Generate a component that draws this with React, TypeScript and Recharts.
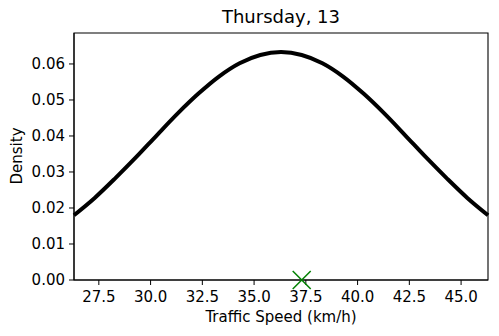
import { ComposedChart, Line, Scatter, XAxis, YAxis, ReferenceArea } from 'recharts';

// x positions along the speed axis (km/h)
const speeds = [26.3, 27.3, 28.3, 29.3, 30.3, 31.3, 32.3, 33.3, 34.3, 35.3, 36.3, 37.3, 38.3, 39.3, 40.3, 41.3, 42.3, 43.3, 44.3, 45.3, 46.3];
// density
const densities = [0.0180, 0.0228, 0.0283, 0.0341, 0.0402, 0.0462, 0.0517, 0.0565, 0.0602, 0.0625, 0.0633, 0.0625, 0.0602, 0.0565, 0.0517, 0.0462, 0.0402, 0.0341, 0.0283, 0.0228, 0.0180];
const markerSpeed = [37.3];
const markerDensity = [0];

const xTicks = [27.5, 30.0, 32.5, 35.0, 37.5, 40.0, 42.5, 45.0];
const yTicks = [0, 0.01, 0.02, 0.03, 0.04, 0.05, 0.06];
const xDomain = [26.3, 46.3];
const yDomain = [0, 0.0686];

const curve = speeds.map((s, i) => ({ speed: s, density: densities[i] }));
const marker = markerSpeed.map((s, i) => ({ speed: s, density: markerDensity[i] }));

const font = 'DejaVu Sans, sans-serif';

const Cross = (props: any) => {
    const { cx, cy } = props;
    const r = 9;
    return (
        <g>
            <line x1={cx - r} y1={cy - r} x2={cx + r} y2={cy + r} stroke="#008000" strokeWidth={1.5} />
            <line x1={cx - r} y1={cy + r} x2={cx + r} y2={cy - r} stroke="#008000" strokeWidth={1.5} />
        </g>
    );
};

export default function App() {
    return (
        <div style={{ position: 'absolute', left: 0, top: 0, width: 499, height: 336, background: '#fff', fontFamily: font }}>
            <ComposedChart width={499} height={336} margin={{ top: 33, right: 11, left: 0, bottom: 0 }}>
                <XAxis
                    dataKey="speed"
                    type="number"
                    domain={xDomain}
                    ticks={xTicks}
                    height={56}
                    tickSize={5}
                    tickMargin={6}
                    stroke="#000"
                    tick={{ fill: '#000', fontSize: 15, fontFamily: font }}
                    tickFormatter={(v: number) => v.toFixed(1)}
                />
                <YAxis
                    type="number"
                    domain={yDomain}
                    ticks={yTicks}
                    width={74}
                    tickSize={5}
                    tickMargin={4}
                    stroke="#000"
                    tick={{ fill: '#000', fontSize: 15, fontFamily: font }}
                    tickFormatter={(v: number) => v.toFixed(2)}
                />
                <ReferenceArea x1={xDomain[0]} x2={xDomain[1]} y1={yDomain[0]} y2={yDomain[1]} fill="none" stroke="#000" strokeWidth={1.1} ifOverflow="visible" />
                <Line data={curve} dataKey="density" type="monotone" stroke="#000" strokeWidth={4} dot={false} isAnimationActive={false} />
                <Scatter data={marker} dataKey="density" shape={Cross} isAnimationActive={false} />
            </ComposedChart>
            <div style={{ position: 'absolute', left: 74, width: 414, top: 6, textAlign: 'center', fontSize: 18, color: '#000' }}>Thursday, 13</div>
            <div style={{ position: 'absolute', left: 74, width: 414, top: 308, textAlign: 'center', fontSize: 15, color: '#000' }}>Traffic Speed (km/h)</div>
            <div style={{ position: 'absolute', left: 17, top: 156, width: 0, height: 0 }}>
                <div style={{ position: 'absolute', transform: 'translate(-50%, -50%) rotate(-90deg)', fontSize: 15, color: '#000', whiteSpace: 'nowrap' }}>Density</div>
            </div>
        </div>
    );
}
